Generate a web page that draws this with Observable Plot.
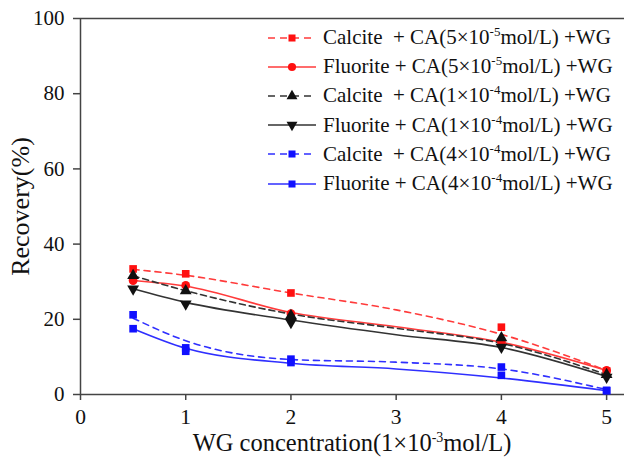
<!DOCTYPE html>
<html><head><meta charset="utf-8">
<script src="https://cdn.jsdelivr.net/npm/d3@7"></script>
<script src="https://cdn.jsdelivr.net/npm/@observablehq/plot@0.6"></script>
<style>
body{margin:0;background:#fff;}
#wrap{position:relative;width:624px;height:458px;font-family:"Liberation Serif","DejaVu Serif",serif;color:#111;}
#legend{position:absolute;left:268px;top:23px;font-size:21px;font-family:"Liberation Serif","DejaVu Serif",serif;}
.row{display:flex;align-items:center;height:29.2px;white-space:pre;}
.row svg{margin-right:7px;flex:none;}
sup{font-size:13px;vertical-align:0;position:relative;top:-8px;}
#xlabel{position:absolute;left:80px;width:544px;text-align:center;top:431px;font-size:24.5px;line-height:24px;white-space:pre;font-family:"Liberation Serif","DejaVu Serif",serif;}
#xlabel sup{font-size:14px;top:-9px;}
</style></head><body><div id="wrap"></div>
<script>
// measured x positions (WG concentration, 1e-3 mol/L)
const xValues = [0.5, 1, 2, 4, 5];
// points (Recovery %)
const calciteCA5e5 = [33.4, 32.1, 27.0, 17.9, 6.2];
const fluoriteCA5e5 = [30.3, 29.0, 21.5, 14.0, 6.4];
const calciteCA1e4 = [31.6, 27.6, 21.0, 15.1, 5.3];
const fluoriteCA1e4 = [28.1, 24.1, 19.2, 12.6, 4.6];
const calciteCA4e4 = [21.2, 12.4, 9.4, 7.3, 1.1];
const fluoriteCA4e4 = [17.5, 11.5, 8.5, 5.1, 1.0];
// fitted curves
const fitX = [0.5, 1, 2, 3, 4, 5];
const calciteCA5e5Fit = [33.3, 31.7, 27.0, 22.5, 16.0, 6.4];
const fluoriteCA5e5Fit = [30.3, 28.8, 21.8, 18.0, 13.9, 6.4];
const calciteCA1e4Fit = [31.6, 27.6, 21.4, 17.6, 13.6, 5.3];
const fluoriteCA1e4Fit = [28.1, 24.5, 19.8, 15.9, 12.5, 4.8];
const calciteCA4e4Fit = [20.3, 14.3, 9.3, 8.6, 6.8, 1.3];
const fluoriteCA4e4Fit = [17.5, 12.3, 8.3, 6.8, 4.4, 1.0];
// labels
const xTicks = [0, 1, 2, 3, 4, 5];
const yTicks = [0, 20, 40, 60, 80, 100];
const yLabel = "Recovery(%)";
const xLabelParts = ["WG concentration(1×10", "-3", "mol/L)"];
const seriesNames = [
  ["Calcite  + CA(5×10", "-5", "mol/L) +WG"],
  ["Fluorite + CA(5×10", "-5", "mol/L) +WG"],
  ["Calcite  + CA(1×10", "-4", "mol/L) +WG"],
  ["Fluorite + CA(1×10", "-4", "mol/L) +WG"],
  ["Calcite  + CA(4×10", "-4", "mol/L) +WG"],
  ["Fluorite + CA(4×10", "-4", "mol/L) +WG"]
];

const RED = "#ff1010", BLACK = "#111", BLUE = "#1010ff";
const series = [
  {pts: calciteCA5e5, fit: calciteCA5e5Fit, color: RED, dash: "6,5", symbol: "square", r: 4.3, rotate: 0},
  {pts: fluoriteCA5e5, fit: fluoriteCA5e5Fit, color: RED, dash: null, symbol: "circle", r: 4.4, rotate: 0},
  {pts: calciteCA1e4, fit: calciteCA1e4Fit, color: BLACK, dash: "6,4", symbol: "triangle", r: 4.4, rotate: 0},
  {pts: fluoriteCA1e4, fit: fluoriteCA1e4Fit, color: BLACK, dash: null, symbol: "triangle", r: 4.4, rotate: 180},
  {pts: calciteCA4e4, fit: calciteCA4e4Fit, color: BLUE, dash: "6,5", symbol: "square", r: 4.3, rotate: 0},
  {pts: fluoriteCA4e4, fit: fluoriteCA4e4Fit, color: BLUE, dash: null, symbol: "square", r: 4.3, rotate: 0}
];

const lineColor = {"#ff1010": "#ff3b3b", "#111": "#333", "#1010ff": "#2f2fff"};
const marks = [];
series.forEach((s) => {
  const fitData = fitX.map((x, i) => ({x, y: s.fit[i]}));
  marks.push(Plot.line(fitData, {x: "x", y: "y", curve: "monotone-x", stroke: lineColor[s.color], strokeWidth: 1.6, strokeDasharray: s.dash || undefined}));
});
series.forEach((s) => {
  const data = xValues.map((x, i) => ({x, y: s.pts[i]}));
  marks.push(Plot.dot(data, {x: "x", y: "y", symbol: () => s.symbol, r: s.r, fill: s.color, stroke: "none", rotate: s.rotate}));
});

const FONT = "'Liberation Serif','DejaVu Serif',serif";
const chart = Plot.plot({
  width: 624, height: 458,
  marginLeft: 80, marginRight: 0, marginTop: 18, marginBottom: 64,
  style: {fontFamily: FONT, fontSize: "21px", color: "#222", background: "white"},
  x: {domain: [0, 5.17]},
  y: {domain: [0, 100]},
  symbol: {type: "identity"},
  marks: [
    Plot.ruleY([100], {stroke: "#444", strokeWidth: 1.5}),
    Plot.ruleY([0], {stroke: "#444", strokeWidth: 1.5}),
    Plot.ruleX([0], {stroke: "#444", strokeWidth: 1.5}),
    Plot.axisX({ticks: xTicks, tickSize: 6, tickPadding: 8, label: null, tickFormat: d => String(d), stroke: "#444", strokeWidth: 1.5, fill: "#111", fontSize: 21.5}),
    Plot.axisY({ticks: yTicks, tickSize: 7, tickPadding: 9, label: null, tickFormat: d => String(d), stroke: "#444", strokeWidth: 1.5, fill: "#111", fontSize: 21}),
    Plot.text([yLabel], {frameAnchor: "left", textAnchor: "middle", dx: -60, dy: 0, rotate: -90, fontSize: 26, fill: "#111", text: d => d}),
    ...marks
  ]
});
const wrap = document.getElementById("wrap");
wrap.appendChild(chart);

// legend
const legend = document.createElement("div");
legend.id = "legend";
series.forEach((s, i) => {
  const row = document.createElement("div");
  row.className = "row";
  const svg = d3.create("svg").attr("width", 48).attr("height", 16);
  svg.append("line").attr("x1", 0).attr("x2", 48).attr("y1", 8).attr("y2", 8)
    .attr("stroke", lineColor[s.color]).attr("stroke-width", 1.5)
    .attr("stroke-dasharray", s.dash ? "7,5" : null);
  const symMap = {square: d3.symbolSquare, circle: d3.symbolCircle, triangle: d3.symbolTriangle};
  svg.append("path").attr("d", d3.symbol(symMap[s.symbol], Math.PI * s.r * s.r * 0.85)())
    .attr("transform", `translate(24,8) rotate(${s.rotate})`).attr("fill", s.color);
  row.appendChild(svg.node());
  const [a, b, c] = seriesNames[i];
  const span = document.createElement("span");
  span.append(a);
  const sup = document.createElement("sup"); sup.textContent = b; span.append(sup);
  span.append(c);
  row.appendChild(span);
  legend.appendChild(row);
});
wrap.appendChild(legend);

const xl = document.createElement("div");
xl.id = "xlabel";
xl.append(xLabelParts[0]);
const xs = document.createElement("sup"); xs.textContent = xLabelParts[1]; xl.append(xs);
xl.append(xLabelParts[2]);
wrap.appendChild(xl);
</script>
</body></html>
